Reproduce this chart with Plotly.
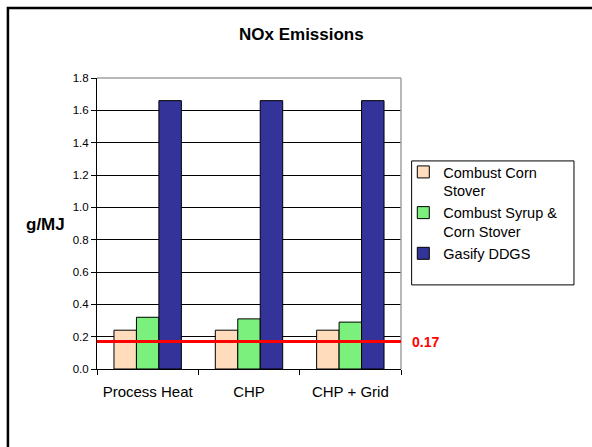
import plotly.graph_objects as go

# NOx emissions by energy configuration (g/MJ)
categories = ["Process Heat", "CHP", "CHP + Grid"]
series_names = ["Combust Corn<br>Stover", "Combust Syrup &<br>Corn Stover", "Gasify DDGS"]
corn_stover = [0.24, 0.24, 0.24]
syrup_and_stover = [0.32, 0.31, 0.29]
gasify_ddgs = [1.66, 1.66, 1.66]
series_values = [corn_stover, syrup_and_stover, gasify_ddgs]
series_colors = ["#FFDCBC", "#7CF07C", "#333399"]
threshold = 0.17
y_ticks = [0.0, 0.2, 0.4, 0.6, 0.8, 1.0, 1.2, 1.4, 1.6, 1.8]

FONT = "Arial, 'Liberation Sans', sans-serif"

fig = go.Figure()
for name, vals, color in zip(series_names, series_values, series_colors):
    fig.add_trace(go.Bar(
        x=categories, y=vals, name=name,
        marker=dict(color=color, line=dict(color="#000000", width=1)),
    ))

# plot-area frame: grey top and right edges
fig.add_shape(type="line", xref="paper", yref="paper", x0=0, x1=1, y0=1, y1=1,
              line=dict(color="#A0A0A0", width=1.5))
fig.add_shape(type="line", xref="paper", yref="paper", x0=1, x1=1, y0=0, y1=1,
              line=dict(color="#A0A0A0", width=1.5))

# threshold line and its value label
fig.add_shape(type="line", xref="paper", yref="y", x0=0, x1=1, y0=threshold, y1=threshold,
              line=dict(color="#FF0000", width=3), layer="above")
fig.add_annotation(xref="paper", yref="y", x=1, y=threshold, xanchor="left", yanchor="middle",
                   xshift=9, text=f"<b>{threshold:.2f}</b>", showarrow=False,
                   font=dict(family=FONT, size=14, color="#FF0000"))

# legend box
fig.add_shape(type="rect", xref="paper", yref="paper", x0=1.035, x1=1.569, y0=0.289, y1=0.715,
              line=dict(color="#000000", width=1), fillcolor="rgba(0,0,0,0)")

# outer chart frame
fig.add_shape(type="rect", xref="paper", yref="paper", x0=-0.293, x1=1.7, y0=-0.35, y1=1.2405,
              line=dict(color="#000000", width=2.5), fillcolor="rgba(0,0,0,0)")

# title and y-axis label
fig.add_annotation(xref="paper", yref="paper", x=0.674, y=1.151, xanchor="center", yanchor="middle",
                   text="<b>NOx Emissions</b>", showarrow=False,
                   font=dict(family=FONT, size=17, color="#000000"))
fig.add_annotation(xref="paper", yref="paper", x=-0.168, y=0.498, xanchor="center", yanchor="middle",
                   text="<b>g/MJ</b>", showarrow=False,
                   font=dict(family=FONT, size=17, color="#000000"))

fig.update_layout(
    width=592, height=447,
    margin=dict(l=97, r=191, t=78, b=78),
    paper_bgcolor="#FFFFFF", plot_bgcolor="#FFFFFF",
    barmode="group", bargap=0.335, bargroupgap=0,
    font=dict(family=FONT, color="#000000"),
    showlegend=True,
    legend=dict(
        x=1.0076, y=0.732, xanchor="left", yanchor="top",
        bgcolor="rgba(0,0,0,0)", borderwidth=0,
        font=dict(family=FONT, size=14.5, color="#000000"),
        valign="top", traceorder="normal",
    ),
    xaxis=dict(
        type="category", showline=True, linecolor="#000000", linewidth=1,
        ticks="outside", tickson="boundaries", ticklen=5, tickcolor="#000000",
        ticklabelstandoff=9,
        tickfont=dict(family=FONT, size=15, color="#000000"),
        showgrid=False,
    ),
    yaxis=dict(
        range=[0, 1.8], tickvals=y_ticks, ticktext=[f"{v:.1f}" for v in y_ticks],
        showline=True, linecolor="#000000", linewidth=1,
        ticks="outside", ticklen=5, tickcolor="#000000",
        tickfont=dict(family=FONT, size=11.5, color="#000000"),
        showgrid=True, gridcolor="#000000", gridwidth=1, zeroline=False,
    ),
)

fig.write_html("out.html")
